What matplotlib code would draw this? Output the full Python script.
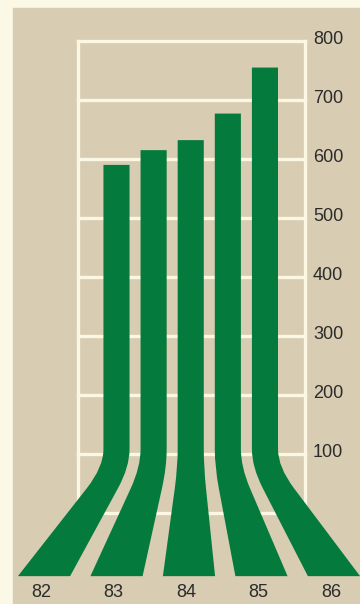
import matplotlib
matplotlib.use("Agg")
import matplotlib.pyplot as plt
from matplotlib.path import Path
from matplotlib.patches import PathPatch, Rectangle

# data
years = ["82", "83", "84", "85", "86"]
values = [590, 615, 632, 677, 755]
grid_values = [0, 100, 200, 300, 400, 500, 600, 700, 800]
tick_labels = ["100", "200", "300", "400", "500", "600", "700", "800"]

green = "#047a3c"
beige = "#d8ccb2"
cream = "#fcf8e6"
white = "#fbf7e2"

fig = plt.figure(figsize=(3.6, 6.04), dpi=100, facecolor=cream)
ax = fig.add_axes([0, 0, 1, 1])
ax.set_xlim(-0.607, 4.359)
ax.set_ylim(-154.2, 869.5)
ax.axis("off")

# beige panel
ax.add_patch(Rectangle((13 / 360, 0), 1, (604 - 8) / 604,
                       transform=ax.transAxes, color=beige, zorder=0))

# white grid box
box_l, box_r = 0.469, 3.6
for g in grid_values:
    ax.plot([box_l, box_r], [g, g], color=white, lw=2.4, zorder=1,
            solid_capstyle="projecting")
for xv in (box_l, box_r):
    ax.plot([xv, xv], [0, 800], color=white, lw=2.4, zorder=1)

# bars: vertical stem, then a bent foot fanning out to the year below
top_step, top_w, bot_w = 0.512, 0.36, 0.72
corner, rad, bottom = 78, 30, -107


def edge(xt, xb):
    # points from the corner region down to the bottom for one edge
    dx, dy = xb - xt, bottom - corner
    f = rad / abs(dy) * 1.2
    return (xt, corner + rad), (xt, corner), (xt + dx * f, corner + dy * f), (xb, bottom)


for i, v in enumerate(values):
    ct = 1 + top_step * i
    cb = i
    l = edge(ct - top_w / 2, cb - bot_w / 2)
    r = edge(ct + top_w / 2, cb + bot_w / 2)
    verts = [(ct - top_w / 2, v), l[0], l[1], l[2], l[3],
             r[3], r[2], r[1], r[0], (ct + top_w / 2, v), (ct - top_w / 2, v)]
    codes = [Path.MOVETO, Path.LINETO, Path.CURVE3, Path.CURVE3, Path.LINETO,
             Path.LINETO, Path.LINETO, Path.CURVE3, Path.CURVE3, Path.LINETO,
             Path.CLOSEPOLY]
    ax.add_patch(PathPatch(Path(verts, codes), facecolor=green,
                           edgecolor="none", zorder=2))
    ax.text(cb - 0.04, -135, years[i], ha="center", va="center",
            fontsize=13, color="#2b2b2b", family="Liberation Sans")

for g, t in zip(grid_values[1:], tick_labels):
    ax.text(3.71, g + 3, t, ha="left", va="center", fontsize=13,
            color="#2b2b2b", family="Liberation Sans")

fig.savefig("out.png", dpi=100, facecolor=cream)
